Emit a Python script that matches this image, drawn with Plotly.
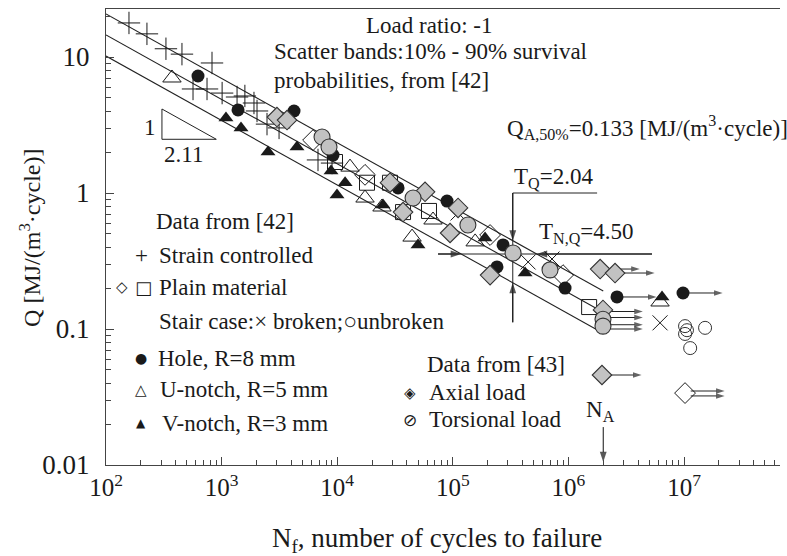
import numpy as np
import plotly.graph_objects as go

# ---------------- data: N (cycles to failure), Q (MJ/(m^3 cycle)) ----------------
strain_N = [158, 226, 330, 454, 826, 566, 748, 1010, 1360, 1590, 1905, 2025, 2470, 3140, 6820, 9020]
strain_Q = [17.8, 14.8, 11.5, 10.5, 9.04, 5.82, 5.82, 5.43, 5.08, 5.17, 4.59, 4.01, 3.21, 3.01, 1.75, 1.66]

plain_diam_N = [6180, 17400, 210000, 898000, 1.02e7]
plain_diam_Q = [2.45, 1.36, 0.491, 0.249, 0.0338]
plain_sq_N = [9570, 18100, 28600, 37100, 62200, 1.51e6]
plain_sq_Q = [1.69, 1.19, 1.19, 0.724, 0.738, 0.145]

broken_N = [111000, 448000, 721000, 6.2e6]
broken_Q = [0.713, 0.311, 0.327, 0.111]
unbroken_N = [1.02e7, 1.06e7, 1.02e7, 1.52e7, 1.13e7]
unbroken_Q = [0.105, 0.098, 0.092, 0.102, 0.0724]

hole_N = [625, 1387, 4230, 9200, 33600, 89100, 272000, 241000, 935000, 2.63e6, 9.8e6]
hole_Q = [7.25, 4.08, 4.01, 1.90, 1.09, 0.873, 0.415, 0.286, 0.200, 0.172, 0.184]

unotch_N = [372, 12900, 17400, 24400, 44400, 67400, 156000, 6.2e6]
unotch_Q = [7.01, 1.55, 0.918, 0.789, 0.474, 0.633, 0.437, 0.158]

vnotch_N = [1091, 1472, 2520, 4490, 8840, 11700, 9960, 24900, 50000, 190000, 422000, 6.45e6]
vnotch_Q = [3.56, 3.01, 2.00, 2.18, 1.45, 1.19, 0.966, 0.817, 0.415, 0.467, 0.258, 0.172]

axial_N = [3010, 3680, 28600, 57500, 37100, 111000, 94600, 210000, 1.88e6, 2.53e6, 1.99e6, 1.95e6]
axial_Q = [3.62, 3.44, 1.19, 1.02, 0.724, 0.776, 0.508, 0.249, 0.276, 0.258, 0.138, 0.0459]

torsion_N = [7390, 8490, 45300, 135000, 332000, 693000, 1.99e6, 1.99e6]
torsion_Q = [2.58, 2.18, 0.918, 0.582, 0.362, 0.272, 0.118, 0.105]

# run-outs (unbroken specimens, arrows)
runout_N = [1.88e6, 2.53e6, 2.63e6, 9.8e6, 2.0e6, 2.0e6, 2.0e6, 2.0e6, 1.95e6, 1.02e7, 1.02e7]
runout_Q = [0.276, 0.258, 0.172, 0.184, 0.1345, 0.1215, 0.1075, 0.100, 0.0459, 0.0350, 0.0322]

# scatter-band model
QA = 0.133      # Q at N_A, 50%
NA = 2e6
K = 2.11        # inverse slope
TQ = 2.04
TNQ = TQ ** K
NT = 3.3e5      # where T_Q is shown
QT = 0.356      # where T_N,Q is shown
Q_TOP, Q_BOT = 1.0, 0.112
N_TQBAR_END = 1.77e6
N_TNQ_START, N_TNQ_END = 74500, 5.28e6
Q_NA_TAIL, Q_NA_TIP = 0.019, 0.0105

x_ticks = [1e2, 1e3, 1e4, 1e5, 1e6, 1e7]
x_ticktext = ['10<sup>2</sup>', '10<sup>3</sup>', '10<sup>4</sup>', '10<sup>5</sup>', '10<sup>6</sup>', '10<sup>7</sup>']
y_ticks = [0.01, 0.1, 1, 10]
y_ticktext = ['0.01', '0.1', '1', '10']

FONT = 'Liberation Serif, Times New Roman, Times, DejaVu Serif, serif'
INK = '#1a1a1a'
HATCH = '#c2c2c2'
RUNOUT_FACTOR = 2.2
TS = 23

fig = go.Figure()

def q_band(n, p):
    return QA * p * (np.asarray(n) / NA) ** (-1.0 / K)

n_line = np.array([100.0, NA])
for p in [np.sqrt(TQ), 1.0, 1 / np.sqrt(TQ)]:
    fig.add_trace(go.Scatter(x=n_line, y=q_band(n_line, p), mode='lines',
                             line=dict(color='#222', width=1.1), hoverinfo='skip'))

# T_Q and T_N,Q construction lines
fig.add_trace(go.Scatter(x=[N_TQBAR_END, NT, NT], y=[Q_TOP, Q_TOP, Q_BOT], mode='lines',
                         line=dict(color='#222', width=1), hoverinfo='skip'))
fig.add_trace(go.Scatter(x=[N_TNQ_START, N_TNQ_END], y=[QT, QT], mode='lines',
                         line=dict(color='#222', width=1), hoverinfo='skip'))

# slope triangle (1 : 2.11)
tri_n0, tri_run, tri_qb = 10 ** 2.484, 0.47, 10 ** 0.395
tri_rise = tri_run / K
fig.add_trace(go.Scatter(x=[tri_n0, tri_n0, tri_n0 * 10 ** tri_run, tri_n0],
                         y=[tri_qb * 10 ** tri_rise, tri_qb, tri_qb, tri_qb * 10 ** tri_rise],
                         mode='lines', line=dict(color='#222', width=1), hoverinfo='skip'))


def arrow_line(x0, y0, x1, y1, size=10, color='#111', sym='arrow'):
    fig.add_trace(go.Scatter(x=[x0, x1], y=[y0, y1], mode='lines+markers',
                             line=dict(color=color, width=1),
                             marker=dict(symbol=['circle', sym], size=[0, size],
                                         angleref='previous', color=color,
                                         line=dict(width=0)),
                             hoverinfo='skip'))

# run-out arrows
for n, q in zip(runout_N, runout_Q):
    arrow_line(n * 1.12, q, n * RUNOUT_FACTOR, q, size=9, color='#222')

# T_Q / T_N,Q arrowheads (tips on the scatter-band lines)
arrow_line(NT, Q_TOP, NT, float(q_band(NT, np.sqrt(TQ))), size=11)
arrow_line(NT, Q_BOT, NT, float(q_band(NT, 1 / np.sqrt(TQ))), size=11)
n_low = NA * (QT * np.sqrt(TQ) / QA) ** (-K)
n_up = NA * (QT / (QA * np.sqrt(TQ))) ** (-K)
arrow_line(N_TNQ_START, QT, n_low, QT, size=11)
arrow_line(N_TNQ_END, QT, n_up, QT, size=11)
# N_A arrow
arrow_line(NA, Q_NA_TAIL, NA, Q_NA_TIP, size=11)


def pts(n, q, symbol, size, fill, lw=1.0, lc='#1a1a1a'):
    fig.add_trace(go.Scatter(x=n, y=q, mode='markers',
                             marker=dict(symbol=symbol, size=size, color=fill,
                                         line=dict(color=lc, width=lw))))

pts(strain_N, strain_Q, 'cross-thin-open', 16, INK, 1.0)
pts(plain_diam_N, plain_diam_Q, 'diamond-open', 16, INK, 1.0)
pts(plain_sq_N, plain_sq_Q, 'square-open', 15, INK, 1.0)
pts(broken_N, broken_Q, 'x-thin-open', 15, INK, 1.0)
pts(unbroken_N, unbroken_Q, 'circle-open', 13, '#333', 1.0)
pts(unotch_N, unotch_Q, 'triangle-up-open', 16, INK, 1.0)
pts(vnotch_N, vnotch_Q, 'triangle-up', 13, INK, 0)
pts(hole_N, hole_Q, 'circle', 13, INK, 0)
pts(axial_N, axial_Q, 'diamond', 15, HATCH, 1.1, '#333')
pts(torsion_N, torsion_Q, 'circle', 16, HATCH, 1.1, '#333')

annotations = []

def txt(s, x, y, xa='left', size=TS, family=FONT, angle=0):
    annotations.append(dict(text=s, x=x, y=y, xref='paper', yref='paper', xanchor=xa,
                            yanchor='middle', showarrow=False, textangle=angle,
                            font=dict(family=family, size=size, color=INK)))

txt('Load ratio: -1', 0.479, 0.963, 'center')
txt('Scatter bands:10% - 90% survival', 0.2463, 0.906)
txt('probabilities, from [42]', 0.2463, 0.844)
txt('Q<sub>A,50%%</sub>=%.3f [MJ/(m<sup>3</sup>·cycle)]' % QA, 0.592, 0.741)
txt('T<sub>Q</sub>=%.2f' % TQ, 0.602, 0.630)
txt('T<sub>N,Q</sub>=%.2f' % TNQ, 0.6395, 0.509)
txt('1', 0.0772, 0.741, 'right')
txt('%.2f' % K, 0.1157, 0.682, 'center')
txt('N<sub>A</sub>', 0.7335, 0.119, 'center')

txt('Data from [42]', 0.0712, 0.533)
txt('+', 0.0534, 0.4605, 'center')
txt('Strain controlled', 0.0757, 0.4605)
txt('◇', 0.0237, 0.390, 'center', 15, 'DejaVu Sans')
txt('□', 0.0549, 0.390, 'center', 18, 'DejaVu Sans')
txt('Plain material', 0.0757, 0.390)
txt('Stair case:× broken;○unbroken', 0.0757, 0.3136)
txt('●', 0.0519, 0.2346, 'center', 14, 'DejaVu Sans')
txt('Hole, R=8 mm', 0.0742, 0.2346)
txt('△', 0.0519, 0.1645, 'center', 15, 'DejaVu Sans')
txt('U-notch, R=5 mm', 0.0772, 0.1645)
txt('▲', 0.0519, 0.0921, 'center', 12, 'DejaVu Sans')
txt('V-notch, R=3 mm', 0.0801, 0.0921)
txt('Data from [43]', 0.4733, 0.2193)
txt('◈', 0.451, 0.158, 'center', 15, 'DejaVu Sans')
txt('Axial load', 0.4763, 0.158)
txt('⊘', 0.451, 0.0987, 'center', 17, 'DejaVu Sans')
txt('Torsional load', 0.4763, 0.0987)

txt('Q [MJ/(m<sup>3</sup>·cycle)]', -0.1128, 0.498, 'center', 24, FONT, -90)
txt('N<sub>f</sub>, number of cycles to failure', 0.4911, -0.1645, 'center', 27)

axis_common = dict(type='log', showgrid=False, zeroline=False, showline=True,
                   linecolor='#444', linewidth=1.2, ticks='inside', ticklen=8,
                   tickwidth=1, tickcolor='#444',
                   minor=dict(ticks='inside', ticklen=5, tickwidth=1, tickcolor='#444',
                              dtick='D1', showgrid=False))

fig.update_layout(
    width=787, height=556,
    margin=dict(l=106, r=7, t=9, b=91),
    plot_bgcolor='white', paper_bgcolor='white',
    showlegend=False,
    xaxis=dict(range=[2, 7.83], tickvals=x_ticks, ticktext=x_ticktext, mirror=True,
               tickfont=dict(family=FONT, size=25, color=INK), **axis_common),
    yaxis=dict(range=[-2, 1.353], tickvals=y_ticks, ticktext=y_ticktext,
               ticklabelstandoff=10, tickfont=dict(family=FONT, size=27, color=INK),
               **axis_common),
    annotations=annotations,
)

fig.write_html('out.html')
